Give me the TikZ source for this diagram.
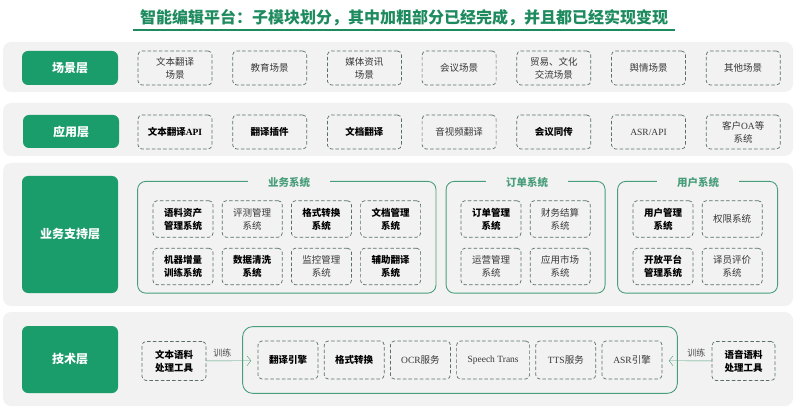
\documentclass[tikz,border=0pt]{standalone}
\usepackage{fontspec}
\setmainfont{Liberation Serif}
\newfontfamily\cjk{Noto Sans CJK SC}
\usetikzlibrary{arrows.meta, positioning, chains, fit}

\definecolor{lygreen}{RGB}{26,156,107}
\definecolor{ttlgreen}{RGB}{30,139,95}
\definecolor{grpgreen}{RGB}{72,158,122}
\definecolor{bandgray}{RGB}{242,242,242}
\definecolor{dashline}{RGB}{88,112,103}
\newcommand{\latn}[1]{{\rmfamily #1}}

\tikzset{
  band/.style={fill=bandgray, rounded corners=8pt},
  layer/.style={fill=lygreen, rounded corners=6pt, text=white, minimum width=96pt,
    font=\cjk\bfseries\fontsize{12}{14}\selectfont},
  sbox/.style={draw=dashline, line width=0.7pt, dashed, dash pattern=on 3.5pt off 2.2pt,
    rounded corners=4pt, minimum width=74pt, minimum height=34pt, inner sep=2pt,
    align=center, text=black!78, font=\cjk\fontsize{9.5}{13}\selectfont},
  done/.style={text=black, font=\cjk\bfseries\fontsize{9.5}{13}\selectfont},
  ibox/.style={sbox, minimum width=60pt, minimum height=36.5pt},
  ebox/.style={sbox, minimum width=60pt, minimum height=38pt},
  grp/.style={draw=grpgreen, line width=0.9pt, rounded corners=8pt},
  grptitle/.style={fill=bandgray, inner xsep=20pt, inner ysep=1pt, text=grpgreen,
    font=\cjk\bfseries\fontsize{10.5}{12}\selectfont},
  flow/.style={draw=grpgreen, -{Straight Barb[length=4pt, width=10pt]}, shorten >=-9pt},
  trn/.style={text=black!70, font=\cjk\fontsize{9}{11}\selectfont, inner sep=3pt}
}

\begin{document}
\begin{tikzpicture}[x=1pt, y=-1pt]
\useasboundingbox (0,0) rectangle (799,419);

% title
\node[text=ttlgreen, font=\cjk\bfseries\fontsize{16}{18}\selectfont] (ttl) at (404,18)
  {智能编辑平台：子模块划分，其中加粗部分已经完成，并且都已经实现变现};
\draw[ttlgreen, line width=1.2pt] (133,30) -- (675,30);

% bands
\fill[band] (3,42) rectangle (793,92);
\fill[band] (3,103) rectangle (793,156);
\fill[band] (3,163) rectangle (793,306);
\fill[band] (3,312) rectangle (793,406);

% layer names
\node[layer, minimum height=34pt] (l1) at (70,68) {场景层};
\node[layer, minimum height=33pt] (l2) at (71,131.5) {应用层};
\node[layer, minimum height=117pt] (l3) at (70,234.5) {业务支持层};
\node[layer, minimum height=67pt] (l4) at (70,359.5) {技术层};

% scenes
\begin{scope}[start chain=scn going right, node distance=20pt]
	\node[sbox, on chain=scn] (s1) at (175,68) {文本翻译\\场景};
	\node[sbox, on chain=scn] (s2) {教育场景};
	\node[sbox, on chain=scn] (s3) {媒体资讯\\场景};
	\node[sbox, on chain=scn] (s4) {会议场景};
	\node[sbox, on chain=scn] (s5) {贸易、文化\\交流场景};
	\node[sbox, on chain=scn] (s6) {舆情场景};
	\node[sbox, on chain=scn] (s7) {其他场景};
\end{scope}

% applications
\begin{scope}[start chain=app going right, node distance=20pt]
	\node[sbox, done, on chain=app] (a1) at (175,132) {文本翻译\latn{API}};
	\node[sbox, done, on chain=app] (a2) {翻译插件};
	\node[sbox, done, on chain=app] (a3) {文档翻译};
	\node[sbox, on chain=app] (a4) {音视频翻译};
	\node[sbox, done, on chain=app] (a5) {会议同传};
	\node[sbox, on chain=app] (a6) {\latn{ASR/API}};
	\node[sbox, on chain=app] (a7) {客户\latn{OA}等\\系统};
\end{scope}

% business systems
\begin{scope}[start chain=bz1 going right, node distance=8.5pt]
	\node[ibox, done, on chain=bz1] (b1) at (183,219) {语料资产\\管理系统};
	\node[ibox, on chain=bz1] (b2) {评测管理\\系统};
	\node[ibox, done, on chain=bz1] (b3) {格式转换\\系统};
	\node[ibox, done, on chain=bz1] (b4) {文档管理\\系统};
\end{scope}
\begin{scope}[start chain=bz2 going right, node distance=8.5pt]
	\node[ibox, done, on chain=bz2] (b5) at (183,266.5) {机器增量\\训练系统};
	\node[ibox, done, on chain=bz2] (b6) {数据清洗\\系统};
	\node[ibox, on chain=bz2] (b7) {监控管理\\系统};
	\node[ibox, done, on chain=bz2] (b8) {辅助翻译\\系统};
\end{scope}
\node[grp, fit=(b1)(b8), inner xsep=15pt, inner ysep=13.5pt, yshift=5.5pt] (gbiz) {};
\node[grptitle] (tbiz) at (289,183) {业务系统};

% order systems
\node[ibox, done] (o1) at (491,219) {订单管理\\系统};
\node[ibox, right=8.5pt of o1] (o2) {财务结算\\系统};
\node[ibox] (o3) at (491,266.5) {运营管理\\系统};
\node[ibox, right=8.5pt of o3] (o4) {应用市场\\系统};
\node[grp, fit=(o1)(o4), inner xsep=14.5pt, inner ysep=13.5pt, yshift=5.5pt] (gord) {};
\node[grptitle] (tord) at (527,183) {订单系统};

% user systems
\node[ibox, done] (u1) at (663,219) {用户管理\\系统};
\node[ibox, right=8.5pt of u1] (u2) {权限系统};
\node[ibox, done] (u3) at (663,266.5) {开放平台\\管理系统};
\node[ibox, right=8.5pt of u3] (u4) {译员评价\\系统};
\node[grp, fit=(u1)(u4), inner xsep=15pt, inner ysep=13.5pt, yshift=5.5pt] (gusr) {};
\node[grptitle] (tusr) at (698,183) {用户系统};

% technology
\begin{scope}[start chain=eng going right, node distance=5.5pt]
	\node[ebox, done, on chain=eng] (e1) at (288,360) {翻译引擎};
	\node[ebox, done, on chain=eng] (e2) {格式转换};
	\node[ebox, on chain=eng] (e3) {\latn{OCR}服务};
	\node[ebox, on chain=eng, minimum width=73pt] (e4) {\latn{Speech Trans}};
	\node[ebox, on chain=eng] (e5) {\latn{TTS}服务};
	\node[ebox, on chain=eng] (e6) {\latn{ASR}引擎};
\end{scope}
\node[grp, rounded corners=10pt, fit=(e1)(e6), inner xsep=15pt, inner ysep=14pt] (engine) {};

\node[sbox, done, minimum width=64pt, minimum height=39pt] (lt) at (174,361) {文本语料\\处理工具};
\node[sbox, done, minimum width=63pt, minimum height=39pt] (rt) at (743.5,361) {语音语料\\处理工具};

\draw[flow] (lt) -- node[trn, above, pos=0.45] {训练} (engine);
\draw[flow] (rt) -- node[trn, above, pos=0.45] {训练} (engine);
\end{tikzpicture}
\end{document}
